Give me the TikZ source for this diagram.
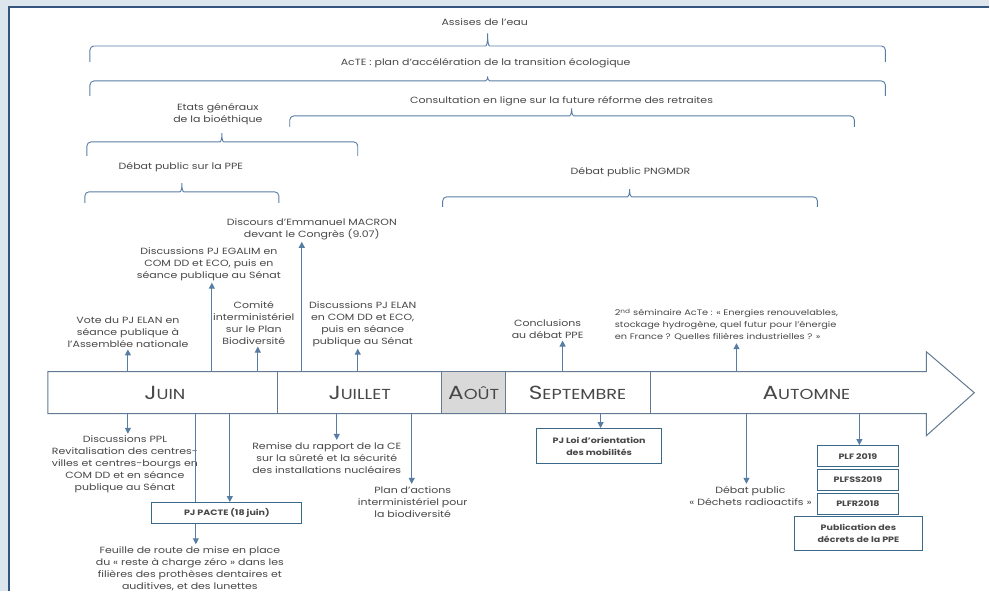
\documentclass[tikz,border=0pt]{standalone}
\usepackage{fontspec}
\setmainfont{Poppins}[FakeStretch=1.22]
\usepackage{tikz}
\usetikzlibrary{arrows.meta}
\definecolor{fond}{RGB}{221,229,237}
\definecolor{cadre}{RGB}{52,86,126}
\definecolor{trait}{RGB}{88,125,165}
\definecolor{barre}{RGB}{98,122,146}
\definecolor{bordboite}{RGB}{58,104,136}
\definecolor{texte}{RGB}{72,72,72}
\newcommand{\mois}[2]{{\fontsize{19}{19}\selectfont #1}{\fontsize{14.5}{14.5}\selectfont #2}}
\newcommand{\accolade}[6]{%
  \draw[accol] (#1,#5) -- (#1,#4) -- (#3-6,#4) .. controls (#3-1,#4) and (#3,#4-3) .. (#3,#6)
    .. controls (#3,#4-3) and (#3+1,#4) .. (#3+6,#4) -- (#2,#4) -- (#2,#5);}

\begin{document}
\begin{tikzpicture}[x=1pt,y=-1pt
  ,>={Triangle[width=6pt,length=6pt]}
  ,every node/.style={text=texte,font=\fontsize{9}{12}\selectfont}
  ,semithick]
  \tikzstyle{accol}=[trait,line width=0.9pt,rounded corners=4pt]
  \tikzstyle{evt}=[align=center,inner sep=2pt]
  \tikzstyle{lien}=[trait,line width=1pt]
  \tikzstyle{encadre}=[draw=bordboite,line width=1.2pt,align=center,inner sep=0pt
    ,font=\bfseries\fontsize{7.8}{12}\selectfont]
  \tikzstyle{mois}=[text=texte,inner sep=0pt]

  % fond et cadre
  \fill[fond] (0,0) rectangle (990,591);
  \fill[white] (9,7) rectangle (990,591);
  \draw[cadre,line width=1.4pt] (9,591) -- (9,7) -- (990,7);

  % accolades du haut
  \node[evt] (assises) at (485,22) {Assises de l’eau};
  \accolade{90}{886}{488}{46}{62}{31}
  \node[evt] (acte) at (486,63) {AcTE : plan d’accélération de la transition écologique};
  \accolade{90}{886}{488}{81}{96}{74}
  \node[evt] (retraites) at (562,101) {Consultation en ligne sur la future réforme des retraites};
  \accolade{290}{855}{572}{116}{127}{106}
  \node[evt] (bioeth) at (218,114) {Etats généraux\\de la bioéthique};
  \accolade{87}{358}{222}{142}{156}{131}
  \node[evt] (ppe) at (181,167) {Débat public sur la PPE};
  \accolade{85}{279}{182}{192}{203}{181}
  \node[evt] (pngmdr) at (631,172) {Débat public PNGMDR};
  \accolade{443}{818}{630}{197}{207}{187}

  % frise
  \draw[barre,line width=1pt,fill=white] (48,372) -- (927,372) -- (927,352) -- (975,393)
    -- (927,436) -- (927,414) -- (48,414) -- cycle;
  \filldraw[draw=barre,fill=black!15,line width=1pt] (442,372) rectangle (506,414);
  \foreach \x in {278,651}
    \draw[barre,line width=1pt] (\x,372) -- (\x,414);
  \node[mois] (juin) at (165,393) {\mois{J}{UIN}};
  \node[mois] (juillet) at (360,393) {\mois{J}{UILLET}};
  \node[mois] (aout) at (474,393) {\mois{A}{OÛT}};
  \node[mois] (sept) at (578,393) {\mois{S}{EPTEMBRE}};
  \node[mois] (automne) at (807,393) {\mois{A}{UTOMNE}};

  % points d'attache sur la frise
  \coordinate (hVote) at (128,372);
  \coordinate (hEgalim) at (212,372);
  \coordinate (hComite) at (258,372);
  \coordinate (hMacron) at (302,372);
  \coordinate (hElan) at (358,372);
  \coordinate (hConcl) at (563,372);
  \coordinate (hSemin) at (737,372);
  \coordinate (bPpl) at (128,414);
  \coordinate (bPacteA) at (196,414);
  \coordinate (bPacteB) at (230,414);
  \coordinate (bCE) at (337,414);
  \coordinate (bBiodiv) at (412,414);
  \coordinate (bLom) at (601,414);
  \coordinate (bDechets) at (747,414);
  \coordinate (bPlf) at (860,414);

  % evenements au-dessus
  \node[evt] (vote) at (128,332) {Vote du PJ ELAN en\\séance publique à\\l’Assemblée nationale};
  \node[evt] (egalim) at (209,264) {Discussions PJ EGALIM en\\COM DD et ECO, puis en\\séance publique au Sénat};
  \node[evt] (comite) at (254,323) {Comité\\interministériel\\sur le Plan\\Biodiversité};
  \node[evt] (macron) at (312,229) {Discours d’Emmanuel MACRON\\devant le Congrès (9.07)};
  \node[evt] (elan) at (363,324) {Discussions PJ ELAN\\en COM DD et ECO,\\puis en séance\\publique au Sénat};
  \node[evt] (concl) at (548,329) {Conclusions\\au débat PPE};
  \node[evt,align=left,anchor=west,font=\fontsize{8}{12}\selectfont] (semin) at (613,325)
    {2\textsuperscript{nd} séminaire AcTe : « Energies renouvelables,\\stockage hydrogène, quel futur pour l’énergie\\en France ? Quelles filières industrielles ? »};

  % evenements au-dessous
  \node[evt] (ppl) at (125,465) {Discussions PPL\\Revitalisation des centres-\\villes et centres-bourgs en\\COM DD et en séance\\publique au Sénat};
  \node[encadre,minimum width=150,minimum height=21] (pacte) at (227,513.5) {PJ PACTE (18 juin)};
  \node[evt] (feuille) at (190,569) {Feuille de route de mise en place\\du « reste à charge zéro » dans les\\filières des prothèses dentaires et\\auditives, et des lunettes};
  \node[evt] (ce) at (327,458) {Remise du rapport de la CE\\sur la sûreté et la sécurité\\des installations nucléaires};
  \node[evt] (biodiv) at (413,502) {Plan d’actions\\interministériel pour\\la biodiversité};
  \node[encadre,minimum width=125,minimum height=35] (lom) at (599.5,446.5) {PJ Loi d’orientation\\des mobilités};
  \node[evt] (dechets) at (751,496) {Débat public\\« Déchets radioactifs »};
  \node[encadre,minimum width=81,minimum height=21] (plf) at (858.5,456.5) {PLF 2019};
  \node[encadre,minimum width=81,minimum height=21] (plfss) at (858.5,480) {PLFSS2019};
  \node[encadre,minimum width=81,minimum height=21] (plfr) at (858.5,504) {PLFR2018};
  \node[encadre,minimum width=128,minimum height=34] (decrets) at (859,534) {Publication des\\décrets de la PPE};

  \path[lien]
  (hVote)   edge [->] (hVote |- vote.south)
  (hEgalim) edge [->] (hEgalim |- egalim.south)
  (hComite) edge [->] (hComite |- comite.south)
  (hMacron) edge [->] (hMacron |- macron.south)
  (hElan)   edge [->] (hElan |- elan.south)
  (hConcl)  edge [->] (hConcl |- concl.south)
  (hSemin)  edge [->] (hSemin |- semin.south)
  (bPpl)    edge [->] (bPpl |- ppl.north)
  (bPacteA) edge      (bPacteA |- pacte.north)
  (bPacteB) edge [->] (bPacteB |- pacte.north)
  (pacte.south -| bPacteA) edge [->] (bPacteA |- feuille.north)
  (bCE)     edge [->] (bCE |- ce.north)
  (bBiodiv) edge [->] (bBiodiv |- biodiv.north)
  (bLom)    edge [->] (bLom |- lom.north)
  (bDechets) edge [->] (bDechets |- dechets.north)
  (bPlf)    edge [->] (bPlf |- plf.north)
  ;
\end{tikzpicture}
\end{document}
